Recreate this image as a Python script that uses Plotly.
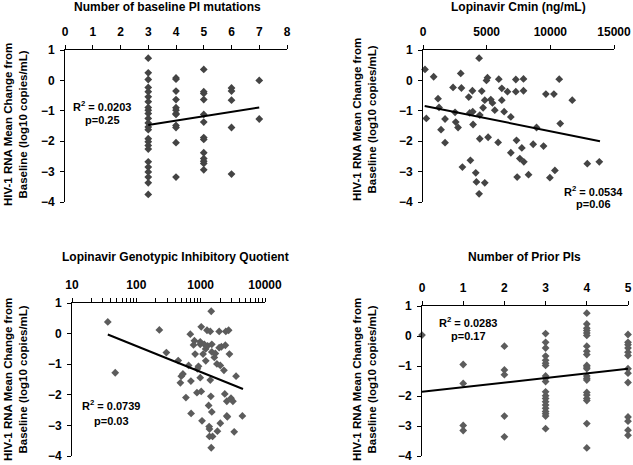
import plotly.graph_objects as go

W, H = 633, 465

# ---------------- data ----------------
# Panel 1: number of baseline PI mutations
p1_x = [3]*24 + [4]*12 + [5]*13 + [6]*5 + [7]*2
p1_y = [0.73, 0.25, 0.03, -0.23, -0.37, -0.54, -0.70, -0.89, -0.98, -1.09, -1.25, -1.40,
        -1.53, -1.62, -1.92, -2.02, -2.14, -2.26, -2.68, -2.85, -3.01, -3.18, -3.37, -3.75,
        0.08, 0.04, -0.35, -0.63, -0.90, -0.98, -1.09, -1.12, -1.48, -1.55, -2.05, -3.18,
        0.36, -0.37, -0.43, -0.63, -1.12, -1.37, -1.88, -1.94, -2.38, -2.57, -2.66, -2.73, -2.94,
        -0.25, -0.35, -0.65, -1.55, -3.08,
        0.0, -1.27]
p1_trend_x = [3, 7]
p1_trend_y = [-1.47, -0.89]

# Panel 2: Lopinavir Cmin (ng/mL)
p2_x = [157, 262, 839, 1180, 1259, 1416, 1731, 1731, 2360, 2517, 2570, 2753, 2963, 3016, 3094,
        3592, 3671, 3723, 3881, 3907, 3933, 4143, 4196, 4406, 4406, 4458, 4458, 4615, 4720, 4851,
        4851, 4983, 5062, 5114, 5324, 5455, 5638, 5900, 5953, 6189, 6189, 6372, 6634, 6897, 6897,
        7290, 7290, 7343, 7395, 7605, 7762, 7893, 7893, 7920, 8287, 8654, 8916, 9467, 9650, 9965,
        10280, 10358, 10699, 10778, 11722, 12902, 13846]
p2_y = [0.36, -1.25, 0.12, -0.60, -0.89, -1.62, -1.27, -2.05, -0.23, -1.05, -1.37, -1.55, 0.23, -0.25, -2.85,
        -0.55, -1.07, -2.63, -0.34, -1.03, -1.45, -3.04, -3.34, 0.73, -3.73, -1.14, -1.92, -0.35, -0.90, -0.65,
        -3.37, 0.0, 0.09, -1.87, -0.63, -0.74, -0.98, -2.04, 0.04, -0.26, -0.65, -1.03, -0.37, -1.20, -2.38,
        0.03, -0.37, -1.97, -3.18, -2.57, -2.22, 0.05, -0.34, -2.68, -3.10, -2.10, -1.55, -2.16, -0.45, -3.20,
        -0.45, -2.96, 0.04, -1.42, -0.65, -2.74, -2.68]
p2_trend_x = [131, 13900]
p2_trend_y = [-0.84, -2.00]

# Panel 3: Lopinavir genotypic inhibitory quotient
p3_x = [36, 47, 228, 293, 448, 484, 500, 530, 590, 650, 690, 705, 710, 775, 800, 820, 875, 890, 925,
        985, 985, 985, 1020, 1020, 1050, 1090, 1140, 1195, 1200, 1255, 1285, 1330, 1355, 1370, 1370,
        1410, 1410, 1440, 1460, 1490, 1490, 1490, 1530, 1460, 1630, 1690, 1790, 1820, 1940, 1940, 2020,
        2020, 2100, 2300, 2370, 2420, 2460, 2550, 2550, 2600, 2720, 2800, 2960, 3170, 3320, 3550, 4450]
p3_y = [0.38, -1.28, 0.12, -0.62, -0.88, -1.61, -1.39, -1.32, -2.09, -1.04, -0.02, -1.55, -2.61, -0.37,
        -0.23, -0.67, -1.93, -1.15, -1.07, -0.27, -0.35, -1.44, 0.22, -1.89, -2.85, -0.67, -0.35, -0.50,
        -0.89, 0.11, -0.40, -2.35, -3.04, -3.12, -3.36, 0.07, -1.52, -2.05, 0.73, -0.35, -0.60, -2.56,
        -3.36, -3.73, -0.78, -0.65, -0.99, -3.19, 0.07, -0.46, -2.93, -1.04, -0.43, -1.20, -1.97, -0.38,
        0.07, -2.21, -2.69, -2.72, 0.11, -0.67, -2.11, -2.21, -3.21, -1.39, -2.69]
p3_trend_x = [36, 4550]
p3_trend_y = [-0.03, -1.81]

# Panel 4: number of prior PIs
p4_x = [0] + [1]*4 + [2]*5 + [3]*20 + [4]*21 + [5]*13
p4_y = [0.03,
        -0.95, -1.58, -2.98, -3.15,
        -0.34, -1.13, -1.29, -2.67, -3.36,
        0.08, -0.21, -0.40, -0.67, -0.81, -0.91, -0.98, -1.33, -1.41, -1.52, -1.86, -1.99, -2.08,
        -2.19, -2.30, -2.41, -2.52, -2.59, -2.67, -3.09,
        0.76, 0.40, 0.26, 0.18, 0.10, 0.02, -0.34, -0.51, -0.62, -0.98, -1.03, -1.09, -1.33, -1.41,
        -1.47, -1.88, -1.97, -2.08, -2.15, -2.92, -3.73,
        0.05, -0.21, -0.29, -0.40, -0.54, -0.65, -1.09, -1.24, -1.55, -2.70, -2.84, -3.14, -3.31]
p4_trend_x = [0, 5]
p4_trend_y = [-1.86, -1.09]

titles = ["Number of baseline PI mutations", "Lopinavir Cmin (ng/mL)",
          "Lopinavir Genotypic Inhibitory Quotient", "Number of Prior PIs"]
stats = [("0.0203", "0.25"), ("0.0534", "0.06"), ("0.0739", "0.03"), ("0.0283", "0.17")]
y_title = "HIV-1 RNA Mean Change from<br>Baseline (log10 copies/mL)"

p1_ticks = [0, 1, 2, 3, 4, 5, 6, 7, 8]
p2_ticks = [0, 5000, 10000, 15000]
p3_decades = [10, 100, 1000, 10000]
p4_ticks = [0, 1, 2, 3, 4, 5]
y_ticks = [1, 0, -1, -2, -3, -4]

# ---------------- layout geometry (pixels) ----------------
FONT = "Liberation Sans, Arial, sans-serif"
panels = [
    dict(x0=65, x1=287, y0=50, y1=202),
    dict(x0=423, x1=614, y0=50, y1=202),
    dict(x0=72, x1=265, y0=303, y1=456),
    dict(x0=422, x1=628, y0=306, y1=456),
]

def px(x):
    return x / W

def py(y):
    return 1 - y / H

fig = go.Figure()
series = [(p1_x, p1_y, p1_trend_x, p1_trend_y, "#444444"),
          (p2_x, p2_y, p2_trend_x, p2_trend_y, "#444444"),
          (p3_x, p3_y, p3_trend_x, p3_trend_y, "#5c5c5c"),
          (p4_x, p4_y, p4_trend_x, p4_trend_y, "#5c5c5c")]

for i, (sx, sy, tx, ty, col) in enumerate(series):
    n = "" if i == 0 else str(i + 1)
    fig.add_trace(go.Scatter(x=sx, y=sy, mode="markers", xaxis="x" + n, yaxis="y" + n,
                             marker=dict(symbol="diamond", size=6, color=col),
                             cliponaxis=False, showlegend=False))
    fig.add_trace(go.Scatter(x=tx, y=ty, mode="lines", xaxis="x" + n, yaxis="y" + n,
                             line=dict(color="black", width=2), cliponaxis=False,
                             showlegend=False))

tickfont = dict(family=FONT, size=12, color="black", weight="bold")
common_x = dict(side="top", showline=True, linecolor="black", linewidth=1, ticks="outside",
                ticklen=4, tickcolor="black", showgrid=False, zeroline=False, tickfont=tickfont,
                ticklabelstandoff=4, automargin=False)
common_y = dict(showline=True, linecolor="black", linewidth=1, ticks="outside", ticklen=4,
                tickcolor="black", showgrid=False, zeroline=False, tickfont=tickfont,
                range=[-4, 1], tickvals=y_ticks, ticklabelstandoff=3, automargin=False)

# log-axis ticks: every 1..9 multiple of each decade, labels only on decades
log_vals, log_text = [], []
for d in p3_decades[:-1]:
    for m in range(1, 10):
        log_vals.append(d * m)
        log_text.append(str(d) if m == 1 else "")
log_vals.append(p3_decades[-1])
log_text.append(str(p3_decades[-1]))

x_specs = [
    dict(range=[0, 8], tickvals=p1_ticks),
    dict(range=[0, 15000], tickvals=p2_ticks, ticktext=[str(v) for v in p2_ticks]),
    dict(type="log", range=[1, 4], tickvals=log_vals, ticktext=log_text),
    dict(range=[0, 5], tickvals=p4_ticks),
]

layout = dict(width=W, height=H, margin=dict(l=0, r=0, t=0, b=0, autoexpand=False),
              paper_bgcolor="white", plot_bgcolor="white", showlegend=False,
              font=dict(family=FONT, color="black"))
for i, p in enumerate(panels):
    n = "" if i == 0 else str(i + 1)
    xa = dict(common_x)
    xa.update(x_specs[i])
    xa.update(domain=[px(p["x0"]), px(p["x1"])], anchor="y" + n)
    ya = dict(common_y)
    ya.update(domain=[py(p["y1"]), py(p["y0"])], anchor="x" + n)
    layout["xaxis" + n] = xa
    layout["yaxis" + n] = ya

fig.update_layout(**layout)

ann_font = dict(family=FONT, size=12, color="black", weight="bold")
title_pos = [(167, 7), (518, 7), (175, 257), (524, 257)]
ytitle_pos = [(16, 125), (364, 120), (15, 380), (364, 380)]
stat_pos = [(102, 106, 120), (593, 191, 204), (111, 405, 421), (468, 322, 336)]

for i in range(4):
    tx, ty = title_pos[i]
    fig.add_annotation(text=titles[i], x=px(tx), y=py(ty), xref="paper", yref="paper",
                       showarrow=False, xanchor="center", yanchor="middle", font=ann_font)
    yx, yy = ytitle_pos[i]
    fig.add_annotation(text=y_title, x=px(yx), y=py(yy), xref="paper", yref="paper",
                       showarrow=False, xanchor="center", yanchor="middle", textangle=-90,
                       font=dict(family=FONT, size=11.5, color="black", weight="bold"))
    sx, sy1, sy2 = stat_pos[i]
    r2, pv = stats[i]
    fig.add_annotation(text="R<sup>2</sup> = " + r2, x=px(sx), y=py(sy1), xref="paper",
                       yref="paper", showarrow=False, xanchor="center", yanchor="middle",
                       font=dict(family=FONT, size=11, color="black", weight="bold"))
    fig.add_annotation(text="p=" + pv, x=px(sx), y=py(sy2), xref="paper", yref="paper",
                       showarrow=False, xanchor="center", yanchor="middle",
                       font=dict(family=FONT, size=11, color="black", weight="bold"))

fig.write_html("out.html", config={"displayModeBar": False},
               post_script="document.body.style.margin='0';document.body.style.overflow='hidden';")
